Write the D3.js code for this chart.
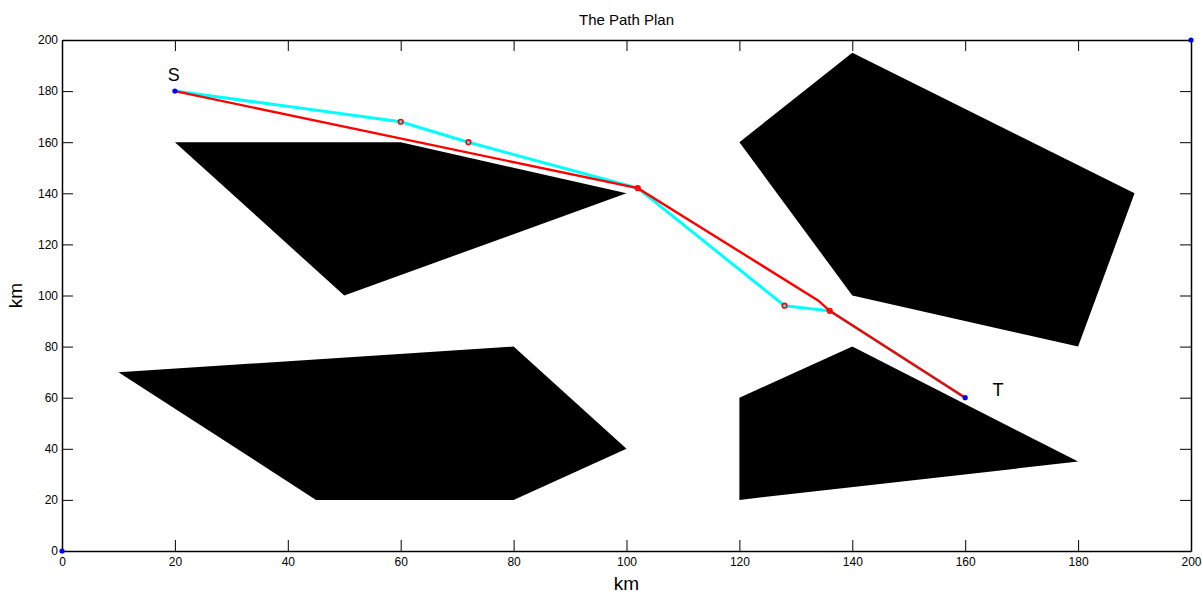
<!DOCTYPE html>
<html>
<head>
<meta charset="utf-8">
<script src="https://cdn.jsdelivr.net/npm/d3@7"></script>
<style>
  body { margin: 0; background: #fff; }
  svg { font-family: "Liberation Sans", Arial, sans-serif; }
</style>
</head>
<body>
<div id="chart-area"></div>
<script>
const BASE_WIDTH = 1203;
const BASE_HEIGHT = 594;

// obstacles (km)
const obstacleA = [[20, 160], [60, 160], [100, 140], [50, 100]];
const obstacleB = [[120, 160], [140, 195], [190, 140], [180, 80], [140, 100]];
const obstacleC = [[10, 70], [80, 80], [100, 40], [80, 20], [45, 20]];
const obstacleD = [[120, 60], [140, 80], [180, 35], [120, 20]];
const obstacles = [obstacleA, obstacleB, obstacleC, obstacleD];

// raw plan (cyan) and smoothed plan (red)
const rawPath = [[20, 180], [60, 168], [72, 160], [102, 142], [128, 96], [136, 94], [160, 60]];
const finalPath = [[20, 180], [102, 142], [134, 98], [136, 94], [160, 60]];
const corners = [[0, 0], [200, 200]];
const endPoints = [[20, 180], [160, 60]];
const tickValues = [0, 20, 40, 60, 80, 100, 120, 140, 160, 180, 200];

const margin = { top: 40, right: 12, bottom: 43, left: 62 };
const width = BASE_WIDTH - margin.left - margin.right;
const height = BASE_HEIGHT - margin.top - margin.bottom;

const root = d3.select("#chart-area").append("svg")
    .attr("width", BASE_WIDTH)
    .attr("height", BASE_HEIGHT);

const svg = root.append("g")
    .attr("transform", "translate(" + margin.left + "," + margin.top + ")");

const x = d3.scaleLinear().domain([0, 200]).range([0, width]);
const y = d3.scaleLinear().domain([0, 200]).range([height, 0]);

const line = d3.line()
    .x(function (d) { return x(d[0]) })
    .y(function (d) { return y(d[1]) });

svg.selectAll("path.obstacle")
    .data(obstacles)
    .enter()
    .append("path")
    .attr("class", "obstacle")
    .attr("d", function (d) { return line(d) + "Z" })
    .attr("fill", "#000")
    .attr("stroke", "none");

svg.append("path")
    .datum(rawPath)
    .attr("fill", "none")
    .attr("stroke", "#00ffff")
    .attr("stroke-width", 3)
    .attr("d", line);

svg.append("path")
    .datum(finalPath)
    .attr("fill", "none")
    .attr("stroke", "#ff0000")
    .attr("stroke-width", 2.4)
    .attr("d", line);

svg.selectAll("circle.node")
    .data(rawPath.slice(1, -1))
    .enter()
    .append("circle")
    .attr("class", "node")
    .attr("cx", function (d) { return x(d[0]) })
    .attr("cy", function (d) { return y(d[1]) })
    .attr("r", 2.3)
    .attr("fill", "none")
    .attr("stroke", "#ff0000")
    .attr("stroke-width", 1.6);

svg.selectAll("circle.end")
    .data(endPoints)
    .enter()
    .append("circle")
    .attr("class", "end")
    .attr("cx", function (d) { return x(d[0]) })
    .attr("cy", function (d) { return y(d[1]) })
    .attr("r", 2.6)
    .attr("fill", "#0000ff");

// axes, matlab style box with inward ticks
const tickLen = 11;
svg.append("g")
    .attr("transform", "translate(0," + height + ")")
    .call(d3.axisBottom(x).tickValues(tickValues).tickSizeInner(-tickLen).tickSizeOuter(0).tickPadding(4))
    .call(g => g.selectAll("text").attr("dy", "0.9em"));
svg.append("g")
    .call(d3.axisTop(x).tickValues(tickValues).tickSizeInner(-tickLen).tickSizeOuter(0).tickFormat(""));
svg.append("g")
    .call(d3.axisLeft(y).tickValues(tickValues).tickSizeInner(-tickLen).tickSizeOuter(0).tickPadding(4));
svg.append("g")
    .attr("transform", "translate(" + width + ",0)")
    .call(d3.axisRight(y).tickValues(tickValues).tickSizeInner(-tickLen).tickSizeOuter(0).tickFormat(""));

svg.selectAll(".domain").attr("stroke", "#000").attr("stroke-width", 1.5);
svg.selectAll(".tick line").attr("stroke", "#000");
svg.selectAll(".tick text").attr("fill", "#000").style("font-size", "12px");

// corner dots sit above the axes
svg.selectAll("circle.corner")
    .data(corners)
    .enter()
    .append("circle")
    .attr("class", "corner")
    .attr("cx", function (d) { return x(d[0]) })
    .attr("cy", function (d) { return y(d[1]) })
    .attr("r", 2.6)
    .attr("fill", "#0000ff");

svg.append("text")
    .attr("x", x(19.8))
    .attr("y", y(186))
    .attr("text-anchor", "middle")
    .attr("dominant-baseline", "middle")
    .style("font-size", "18px")
    .text("S");

svg.append("text")
    .attr("x", x(165.8))
    .attr("y", y(62.6))
    .attr("text-anchor", "middle")
    .attr("dominant-baseline", "middle")
    .style("font-size", "18px")
    .text("T");

root.append("text")
    .attr("x", margin.left + width / 2)
    .attr("y", 25)
    .attr("text-anchor", "middle")
    .style("font-size", "15px")
    .text("The Path Plan");

root.append("text")
    .attr("x", margin.left + width / 2)
    .attr("y", 590)
    .attr("text-anchor", "middle")
    .style("font-size", "19px")
    .text("km");

root.append("text")
    .attr("transform", "translate(22," + (margin.top + height / 2) + ")rotate(-90)")
    .attr("text-anchor", "middle")
    .style("font-size", "19px")
    .text("km");
</script>
</body>
</html>
